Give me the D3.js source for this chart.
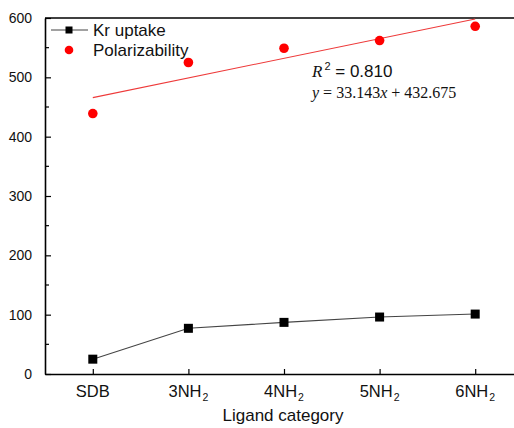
<!DOCTYPE html>
<html>
<head>
<meta charset="utf-8">
<script src="https://cdn.jsdelivr.net/npm/d3@7"></script>
<style>
  html, body { margin: 0; padding: 0; background: #fff; }
  svg { display: block; }
  text { font-family: "Liberation Sans", Arial, sans-serif; fill: #111; }
</style>
</head>
<body>
<svg id="chart" width="514" height="428"></svg>
<script>
// Ligand categories on the x axis (base name + subscript digit)
const categories = ["SDB", "3NH2", "4NH2", "5NH2", "6NH2"];
const categoryBase = ["SDB", "3NH", "4NH", "5NH", "6NH"];
const categorySub = ["", "2", "2", "2", "2"];

// Series values
const krUptake = [25, 77, 87, 96, 101];
const polarizability = [439, 525, 549, 562, 586];

// Linear fit of polarizability against ligand index (1..5)
const fitSlope = 33.143;
const fitIntercept = 432.675;
const fitR2 = "0.810";

const yTicks = [0, 100, 200, 300, 400, 500, 600];
const yMinorTicks = [50, 150, 250, 350, 450, 550];

const svg = d3.select("#chart");
const plotLeft = 45, plotTop = 18, plotBottom = 374, plotRight = 523;

const x = d3.scalePoint().domain(categories).range([plotLeft, plotRight]).padding(0.5);
const y = d3.scaleLinear().domain([0, 600]).range([plotBottom, plotTop]);

// Axes: ticks point into the plot
const yAxis = d3.axisLeft(y).tickValues(yTicks).tickSizeInner(-6).tickSizeOuter(0).tickPadding(13).tickFormat(d3.format("d"));
const gy = svg.append("g").attr("transform", `translate(${plotLeft},0)`).call(yAxis);
gy.select(".domain").attr("stroke-width", 1.6);
gy.selectAll(".tick line").attr("stroke-width", 1.2);
gy.selectAll(".tick text").style("font-size", "14px").attr("fill", "#111");

gy.selectAll(".minor").data(yMinorTicks).enter().append("line")
  .attr("x1", 0).attr("x2", 4)
  .attr("y1", d => y(d)).attr("y2", d => y(d))
  .attr("stroke", "#000").attr("stroke-width", 1.2);

const xAxis = d3.axisBottom(x).tickSizeInner(-5).tickSizeOuter(0).tickFormat("");
const gx = svg.append("g").attr("transform", `translate(0,${plotBottom})`).call(xAxis);
gx.select(".domain").attr("stroke-width", 1.6);
gx.selectAll(".tick line").attr("stroke-width", 1.2);

// Category labels with subscripts
const labels = svg.append("g").selectAll("text").data(categories).enter().append("text")
  .attr("x", d => x(d)).attr("y", 397)
  .attr("text-anchor", "middle")
  .style("font-size", "16.5px");
labels.append("tspan").text((d, i) => categoryBase[i]);
labels.append("tspan").text((d, i) => categorySub[i])
  .attr("dx", 1).attr("dy", 4).style("font-size", "10.5px");

// Top frame line
svg.append("line").attr("x1", plotLeft).attr("x2", 514).attr("y1", plotTop).attr("y2", plotTop)
  .attr("stroke", "#000").attr("stroke-width", 1.6);

// Axis title
svg.append("text").attr("x", 283).attr("y", 421).attr("text-anchor", "middle")
  .style("font-size", "17px").text("Ligand category");

// Fit line for polarizability
const xi = d3.scaleLinear().domain([1, categories.length]).range([x(categories[0]), x(categories[categories.length - 1])]);
svg.append("line")
  .attr("x1", xi(1)).attr("y1", y(fitSlope * 1 + fitIntercept))
  .attr("x2", xi(5)).attr("y2", y(fitSlope * 5 + fitIntercept))
  .attr("stroke", "#ee3a3a").attr("stroke-width", 1.1);

// Kr uptake line + square markers
const line = d3.line().x((d, i) => x(categories[i])).y(d => y(d));
svg.append("path").datum(krUptake).attr("d", line)
  .attr("fill", "none").attr("stroke", "#444").attr("stroke-width", 1.1);
const sq = 9;
svg.selectAll(".kr").data(krUptake).enter().append("rect")
  .attr("x", (d, i) => x(categories[i]) - sq / 2).attr("y", d => y(d) - sq / 2)
  .attr("width", sq).attr("height", sq).attr("fill", "#000");

// Polarizability dots
svg.selectAll(".pol").data(polarizability).enter().append("circle")
  .attr("cx", (d, i) => x(categories[i])).attr("cy", d => y(d))
  .attr("r", 4.8).attr("fill", "#ff0000");

// Legend
const lg = svg.append("g");
lg.append("line").attr("x1", 51).attr("x2", 88).attr("y1", 30).attr("y2", 30)
  .attr("stroke", "#444").attr("stroke-width", 1.1);
lg.append("rect").attr("x", 65.5).attr("y", 26.5).attr("width", 7).attr("height", 7).attr("fill", "#000");
lg.append("text").attr("x", 93).attr("y", 36).style("font-size", "17px").text("Kr uptake");
lg.append("circle").attr("cx", 69).attr("cy", 50).attr("r", 4.3).attr("fill", "#ff0000");
lg.append("text").attr("x", 93).attr("y", 56).style("font-size", "17px").text("Polarizability");

// Fit annotation
const r2 = svg.append("text").attr("x", 312).attr("y", 77).style("font-size", "17px");
r2.append("tspan").text("R").style("font-family", "'Liberation Serif', 'Times New Roman', serif").style("font-style", "italic");
r2.append("tspan").text("2").attr("dx", 2).attr("dy", -7).style("font-size", "11px");
r2.append("tspan").text(" = " + fitR2).attr("dy", 7);

const eq = svg.append("text").attr("x", 312).attr("y", 98)
  .style("font-family", "'Liberation Serif', 'Times New Roman', serif").style("font-size", "16px");
eq.append("tspan").text("y").style("font-style", "italic");
eq.append("tspan").text(" = " + fitSlope);
eq.append("tspan").text("x").style("font-style", "italic");
eq.append("tspan").text(" + " + fitIntercept);
</script>
</body>
</html>
